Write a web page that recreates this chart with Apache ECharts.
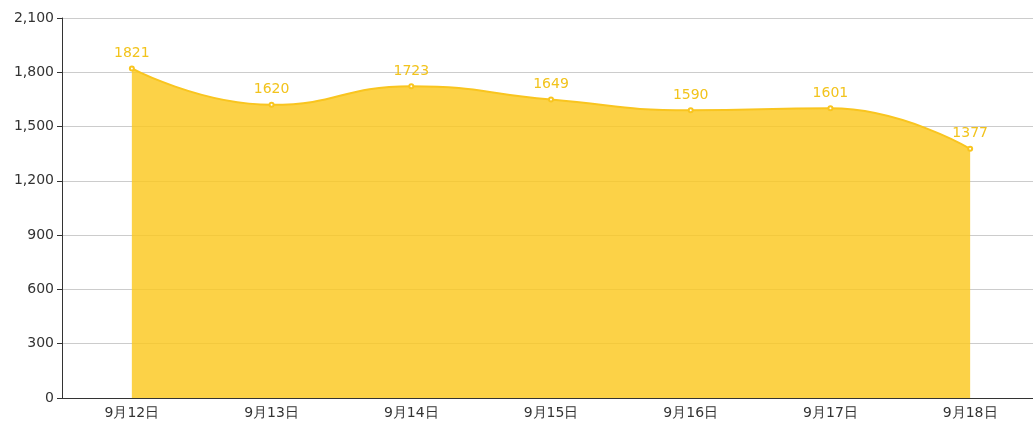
<!DOCTYPE html>
<html>
<head>
<meta charset="utf-8">
<script src="https://cdn.jsdelivr.net/npm/echarts@6/dist/echarts.min.js"></script>
<style>html,body{margin:0;padding:0;background:#fff;overflow:hidden}#c{width:1040px;height:427px}</style>
</head>
<body>
<div id="c"></div>
<script>
const categories = ['9月12日','9月13日','9月14日','9月15日','9月16日','9月17日','9月18日'];
const values = [1821, 1620, 1723, 1649, 1590, 1601, 1377];
const chart = echarts.init(document.getElementById('c'));
chart.setOption({
  animation: false,
  grid: { left: 62, right: 0, top: 18, bottom: 29, containLabel: false },
  xAxis: {
    type: 'category', data: categories, boundaryGap: true,
    axisLine: { lineStyle: { color: '#333' } },
    axisTick: { lineStyle: { color: '#333' } },
    axisLabel: { color: '#333', fontSize: 14, fontFamily: 'DejaVu Sans', margin: 8 }
  },
  yAxis: {
    type: 'value', min: 0, max: 2100, interval: 300,
    axisLine: { show: true, lineStyle: { color: '#333' } },
    axisTick: { show: true, lineStyle: { color: '#333' } },
    axisLabel: { color: '#333', fontSize: 14, fontFamily: 'DejaVu Sans', margin: 8 },
    splitLine: { lineStyle: { color: '#ccc' } }
  },
  series: [{
    type: 'line', data: values, smooth: true,
    symbol: 'emptyCircle', symbolSize: 4,
    lineStyle: { color: '#f9c51f', width: 2 },
    itemStyle: { color: '#f9c51f' },
    areaStyle: { color: 'rgba(251,200,30,0.82)', opacity: 1 },
    label: { show: true, position: 'top', color: '#f2c31c', fontSize: 14, fontFamily: 'DejaVu Sans' }
  }]
});
</script>
</body>
</html>
